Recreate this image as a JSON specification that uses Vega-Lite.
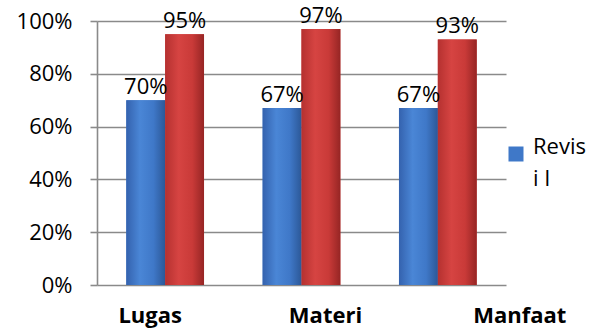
{
  "$schema": "https://vega.github.io/schema/vega-lite/v6.json",
  "width": 409,
  "height": 264,
  "autosize": {"type": "none"},
  "padding": {"left": 97, "top": 21, "right": 88, "bottom": 46},
  "background": "white",
  "data": {
    "values": [
      {"aspek": "Lugas", "seri": "Revisi I", "nilai": 0.70},
      {"aspek": "Lugas", "seri": "Revisi II", "nilai": 0.95},
      {"aspek": "Materi", "seri": "Revisi I", "nilai": 0.67},
      {"aspek": "Materi", "seri": "Revisi II", "nilai": 0.97},
      {"aspek": "Manfaat", "seri": "Revisi I", "nilai": 0.67},
      {"aspek": "Manfaat", "seri": "Revisi II", "nilai": 0.93}
    ]
  },
  "encoding": {
    "x": {
      "field": "aspek",
      "type": "nominal",
      "sort": ["Lugas", "Materi", "Manfaat"],
      "scale": {"paddingInner": 0.43, "paddingOuter": 0.215},
      "axis": {
        "title": null,
        "labelAngle": 0,
        "ticks": false,
        "domain": false,
        "grid": false,
        "labelFont": "Open Sans",
        "labelFontSize": 22,
        "labelFontWeight": "bold",
        "labelColor": "#000000",
        "labelPadding": 20,
        "labelOffset": {
          "condition": [
            {"test": "datum.value === 'Lugas'", "value": -15},
            {"test": "datum.value === 'Materi'", "value": 24}
          ],
          "value": 82
        }
      }
    },
    "xOffset": {"field": "seri", "type": "nominal", "sort": ["Revisi I", "Revisi II"]},
    "y": {
      "field": "nilai",
      "type": "quantitative",
      "scale": {"domain": [0, 1]},
      "axis": {
        "title": null,
        "values": [0, 0.2, 0.4, 0.6, 0.8, 1],
        "format": ".0%",
        "grid": true,
        "gridColor": "#8a8a8a",
        "gridWidth": 1.6,
        "domain": true,
        "domainColor": "#8a8a8a",
        "domainWidth": 1.6,
        "ticks": true,
        "tickSize": 7,
        "tickColor": "#8a8a8a",
        "tickWidth": 1.6,
        "labelFont": "Open Sans",
        "labelFontSize": 22,
        "labelColor": "#000000",
        "labelPadding": 18
      }
    }
  },
  "layer": [
    {
      "mark": {"type": "bar"},
      "encoding": {
        "color": {
          "field": "seri",
          "type": "nominal",
          "scale": {"domain": ["Revisi I", "Revisi II"], "range": ["#3F78C8", "#CC3A38"]},
          "legend": {
            "orient": "none",
            "legendX": 408,
            "legendY": 122,
            "title": null,
            "values": ["Revisi I"],
            "symbolType": "square",
            "symbolSize": 225,
            "symbolStrokeWidth": 0,
            "symbolOpacity": 1,
            "labelFont": "Open Sans",
            "labelFontSize": 22,
            "labelColor": "#000000",
            "labelExpr": "['Revis', 'i I']",
            "labelBaseline": "alphabetic",
            "labelOffset": 6,
            "padding": 0
          }
        }
      }
    },
    {
      "transform": [{"filter": "datum.seri === 'Revisi I'"}],
      "mark": {
        "type": "bar",
        "fill": {
          "gradient": "linear",
          "x1": 0, "y1": 0, "x2": 1, "y2": 0,
          "stops": [
            {"offset": 0, "color": "#3462AE"},
            {"offset": 0.35, "color": "#4A86D6"},
            {"offset": 0.7, "color": "#3F78C8"},
            {"offset": 1, "color": "#2C5897"}
          ]
        }
      }
    },
    {
      "transform": [{"filter": "datum.seri === 'Revisi II'"}],
      "mark": {
        "type": "bar",
        "fill": {
          "gradient": "linear",
          "x1": 0, "y1": 0, "x2": 1, "y2": 0,
          "stops": [
            {"offset": 0, "color": "#B53130"},
            {"offset": 0.35, "color": "#D64442"},
            {"offset": 0.7, "color": "#C93A38"},
            {"offset": 1, "color": "#962524"}
          ]
        }
      }
    },
    {
      "mark": {
        "type": "text",
        "baseline": "alphabetic",
        "dy": -6,
        "font": "Open Sans",
        "fontSize": 22,
        "color": "#000000"
      },
      "encoding": {
        "text": {"field": "nilai", "type": "quantitative", "format": ".0%"}
      }
    }
  ],
  "config": {
    "view": {"stroke": null},
    "style": {"guide-label": {"lineHeight": 32}}
  }
}
